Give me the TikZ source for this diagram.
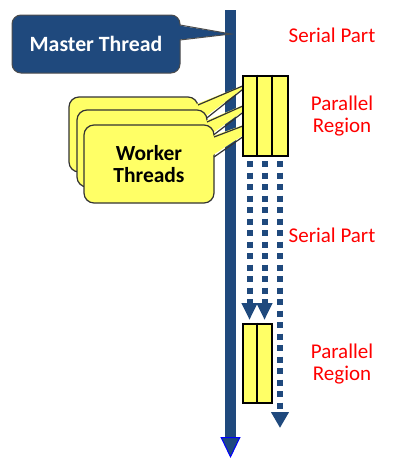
\documentclass[tikz,border=0pt]{standalone}
\usepackage{fontspec}
\setmainfont{Carlito}
\usetikzlibrary{arrows.meta}
\definecolor{dkblue}{RGB}{31,73,125}
\definecolor{yel}{RGB}{255,255,102}
\definecolor{lbl}{RGB}{255,0,0}
\begin{document}
\begin{tikzpicture}[x=1pt,y=-1pt,
 lab/.style={text=lbl, font=\fontsize{21}{22}\selectfont, align=center, inner sep=0},
 parbox/.style={draw=black, line width=2pt, fill=yel, inner sep=0},
 wbox/.style={draw=black!80, line width=1.2pt, fill=yel, rounded corners=10pt, inner sep=0},
 wptr/.style={draw=black!80, line width=1.2pt},
 dots/.style={dkblue, line width=6pt, dash pattern=on 6pt off 5.5pt},
]
\useasboundingbox (0,0) rectangle (409,474);

% main thread
\coordinate (mt) at (230.5,10);
\coordinate (mb) at (230.5,458);
\draw[dkblue, line width=11pt, -{Triangle[width=20pt,length=21pt,line width'=1pt,fill=dkblue,color=blue]}] (mt) -- (mb);

% master callout
\node[fill=dkblue, draw=black!70, line width=1pt, rounded corners=9pt,
  minimum width=168pt, minimum height=58pt, inner sep=0,
  text=white, font=\bfseries\fontsize{21.8}{22}\selectfont] (master) at (96,44) {Master Thread};
\fill[dkblue] (176,25) -- (231,34) -- (176,40) -- cycle;
\draw[black!70, line width=1pt] (180,25) -- (231,34) -- (180,40);

% worker callouts
\node[wbox, minimum width=129pt, minimum height=75pt] (wback) at (133.5,134.5) {};
\fill[yel] (194,105) -- (252,82) -- (194,125) -- cycle;
\draw[wptr] (198,105) -- (252,82) -- (198,125);
\node[wbox, minimum width=130pt, minimum height=77pt] (wmid) at (142,148.5) {};
\fill[yel] (203,122) -- (263,97) -- (203,140) -- cycle;
\draw[wptr] (207,122) -- (263,97) -- (207,140);
\node[wbox, minimum width=130pt, minimum height=78pt, align=center,
  font=\bfseries\fontsize{21.5}{22}\selectfont] (wfront) at (149,164) {Worker\\Threads};
\fill[yel] (210,137) -- (277,113) -- (210,157) -- cycle;
\draw[wptr] (214,137) -- (277,113) -- (214,157);

% parallel region 1
\node[parbox, minimum width=45pt, minimum height=80pt] (pr1) at (265,115.5) {};
\draw[line width=2pt] (pr1.north -| 257,0) -- (pr1.south -| 257,0);
\draw[line width=2pt] (pr1.north -| 272,0) -- (pr1.south -| 272,0);

% parallel region 2
\node[parbox, minimum width=29pt, minimum height=79pt] (pr2) at (257,363) {};
\draw[line width=2pt] (pr2.north) -- (pr2.south);

% dotted worker threads
\coordinate (d1s) at (249.5,161);
\coordinate (d2s) at (264.5,161);
\coordinate (d3s) at (280,161);
\coordinate (d1e) at (249.5,320);
\coordinate (d2e) at (264.5,320);
\coordinate (d3e) at (280,428);
\draw[dots, -{Triangle[width=15pt,length=17pt]}] (d1s) -- (d1e);
\draw[dots, -{Triangle[width=15pt,length=17pt]}] (d2s) -- (d2e);
\draw[dots, -{Triangle[width=17pt,length=16pt]}] (d3s) -- (d3e);

% labels
\node[lab] (s1) at (332,35.5) {Serial Part};
\node[lab] (p1) at (342,116) {Parallel\\Region};
\node[lab] (s2) at (332,235) {Serial Part};
\node[lab] (p2) at (342,364) {Parallel\\Region};
\end{tikzpicture}
\end{document}
